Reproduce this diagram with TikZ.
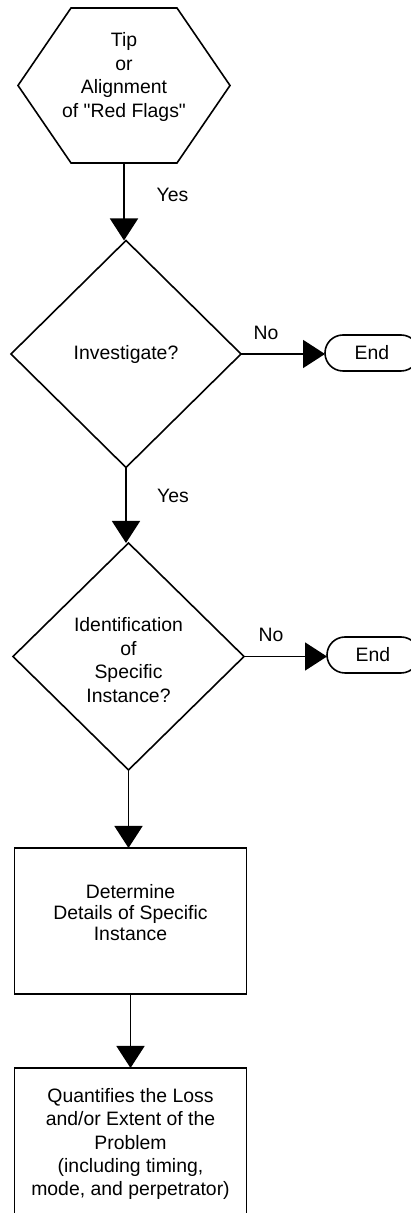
\documentclass[tikz,border=0pt]{standalone}
\usepackage{fontspec}
\setmainfont{Liberation Sans}
\usetikzlibrary{arrows.meta,shapes.geometric,shapes.misc,calc}

\tikzset{
  outline/.style={draw=black, line width=1.6pt},
  frame/.style={inner sep=0pt, outer sep=0pt},
  txt/.style={font=\fontsize{19.4}{23.6}\selectfont, align=center, inner sep=0pt},
  decision/.style={frame, outline, diamond, minimum width=230pt, minimum height=227pt},
  stepbox/.style={frame, outline, rectangle, minimum width=232pt},
  terminal/.style={frame, outline, rounded rectangle, minimum height=36pt, txt},
  flow/.style={line width=1.7pt, -{Triangle[length=22pt,width=28pt]}},
  tag/.style={txt}
}

\begin{document}
\begin{tikzpicture}[x=1pt, y=1pt]
  \useasboundingbox (0,0) rectangle (411,1213);
  \fill[white] (0,0) rectangle (411,1213);

  % start: hexagonal trigger
  \node[frame, minimum width=212pt, minimum height=155pt] (hex) at (124,1127.5) {};
  \draw[outline, line join=miter]
    ($(hex.north west)+(53,0)$) -- ($(hex.north east)+(-53,0)$) -- (hex.east)
    -- ($(hex.south east)+(-53,0)$) -- ($(hex.south west)+(53,0)$) -- (hex.west) -- cycle;
  \node[txt] (hextext) at (124,1136) {Tip\\or\\Alignment\\of \textquotedbl Red Flags\textquotedbl};

  % first decision
  \node[decision] (inv) at (126,859) {};
  \node[txt] (invtext) at (inv.center) {Investigate?};
  \node[terminal, minimum width=94pt] (end1) at (372,860) {End};

  % second decision
  \node[decision, minimum width=231pt] (spec) at (128.5,556.5) {};
  \node[txt] (spectext) at (128.5,553) {Identification\\of\\Specific\\Instance?};
  \node[terminal, minimum width=92pt] (end2) at (373,558) {End};

  % process boxes
  \node[stepbox, minimum height=146pt] (det) at (130.5,292) {};
  \node[txt, font=\fontsize{19.4}{21}\selectfont] (dettext) at (130.5,300.5)
    {Determine\\Details of Specific\\Instance};
  \node[stepbox, minimum height=152pt, txt, font=\fontsize{19.4}{23.3}\selectfont] (quant) at (130.5,69)
    {Quantifies the Loss\\and/or Extent of the\\Problem\\(including timing,\\mode, and perpetrator)};

  % connectors
  \draw[flow] (hex.south) -- (hex.south |- inv.north);
  \draw[flow] (inv.east) -- (inv.east -| end1.west);
  \draw[flow] (inv.south) -- (inv.south |- spec.north);
  \draw[flow] (spec.east) -- (spec.east -| end2.west);
  \draw[flow] (spec.south) -- (spec.south |- det.north);
  \draw[flow] (det.south) -- (det.south |- quant.north);

  % branch labels
  \node[tag] (yes1) at (172.5,1018) {Yes};
  \node[tag] (no1) at (266,880.5) {No};
  \node[tag] (yes2) at (173,717.5) {Yes};
  \node[tag] (no2) at (271,578.5) {No};
\end{tikzpicture}
\end{document}
